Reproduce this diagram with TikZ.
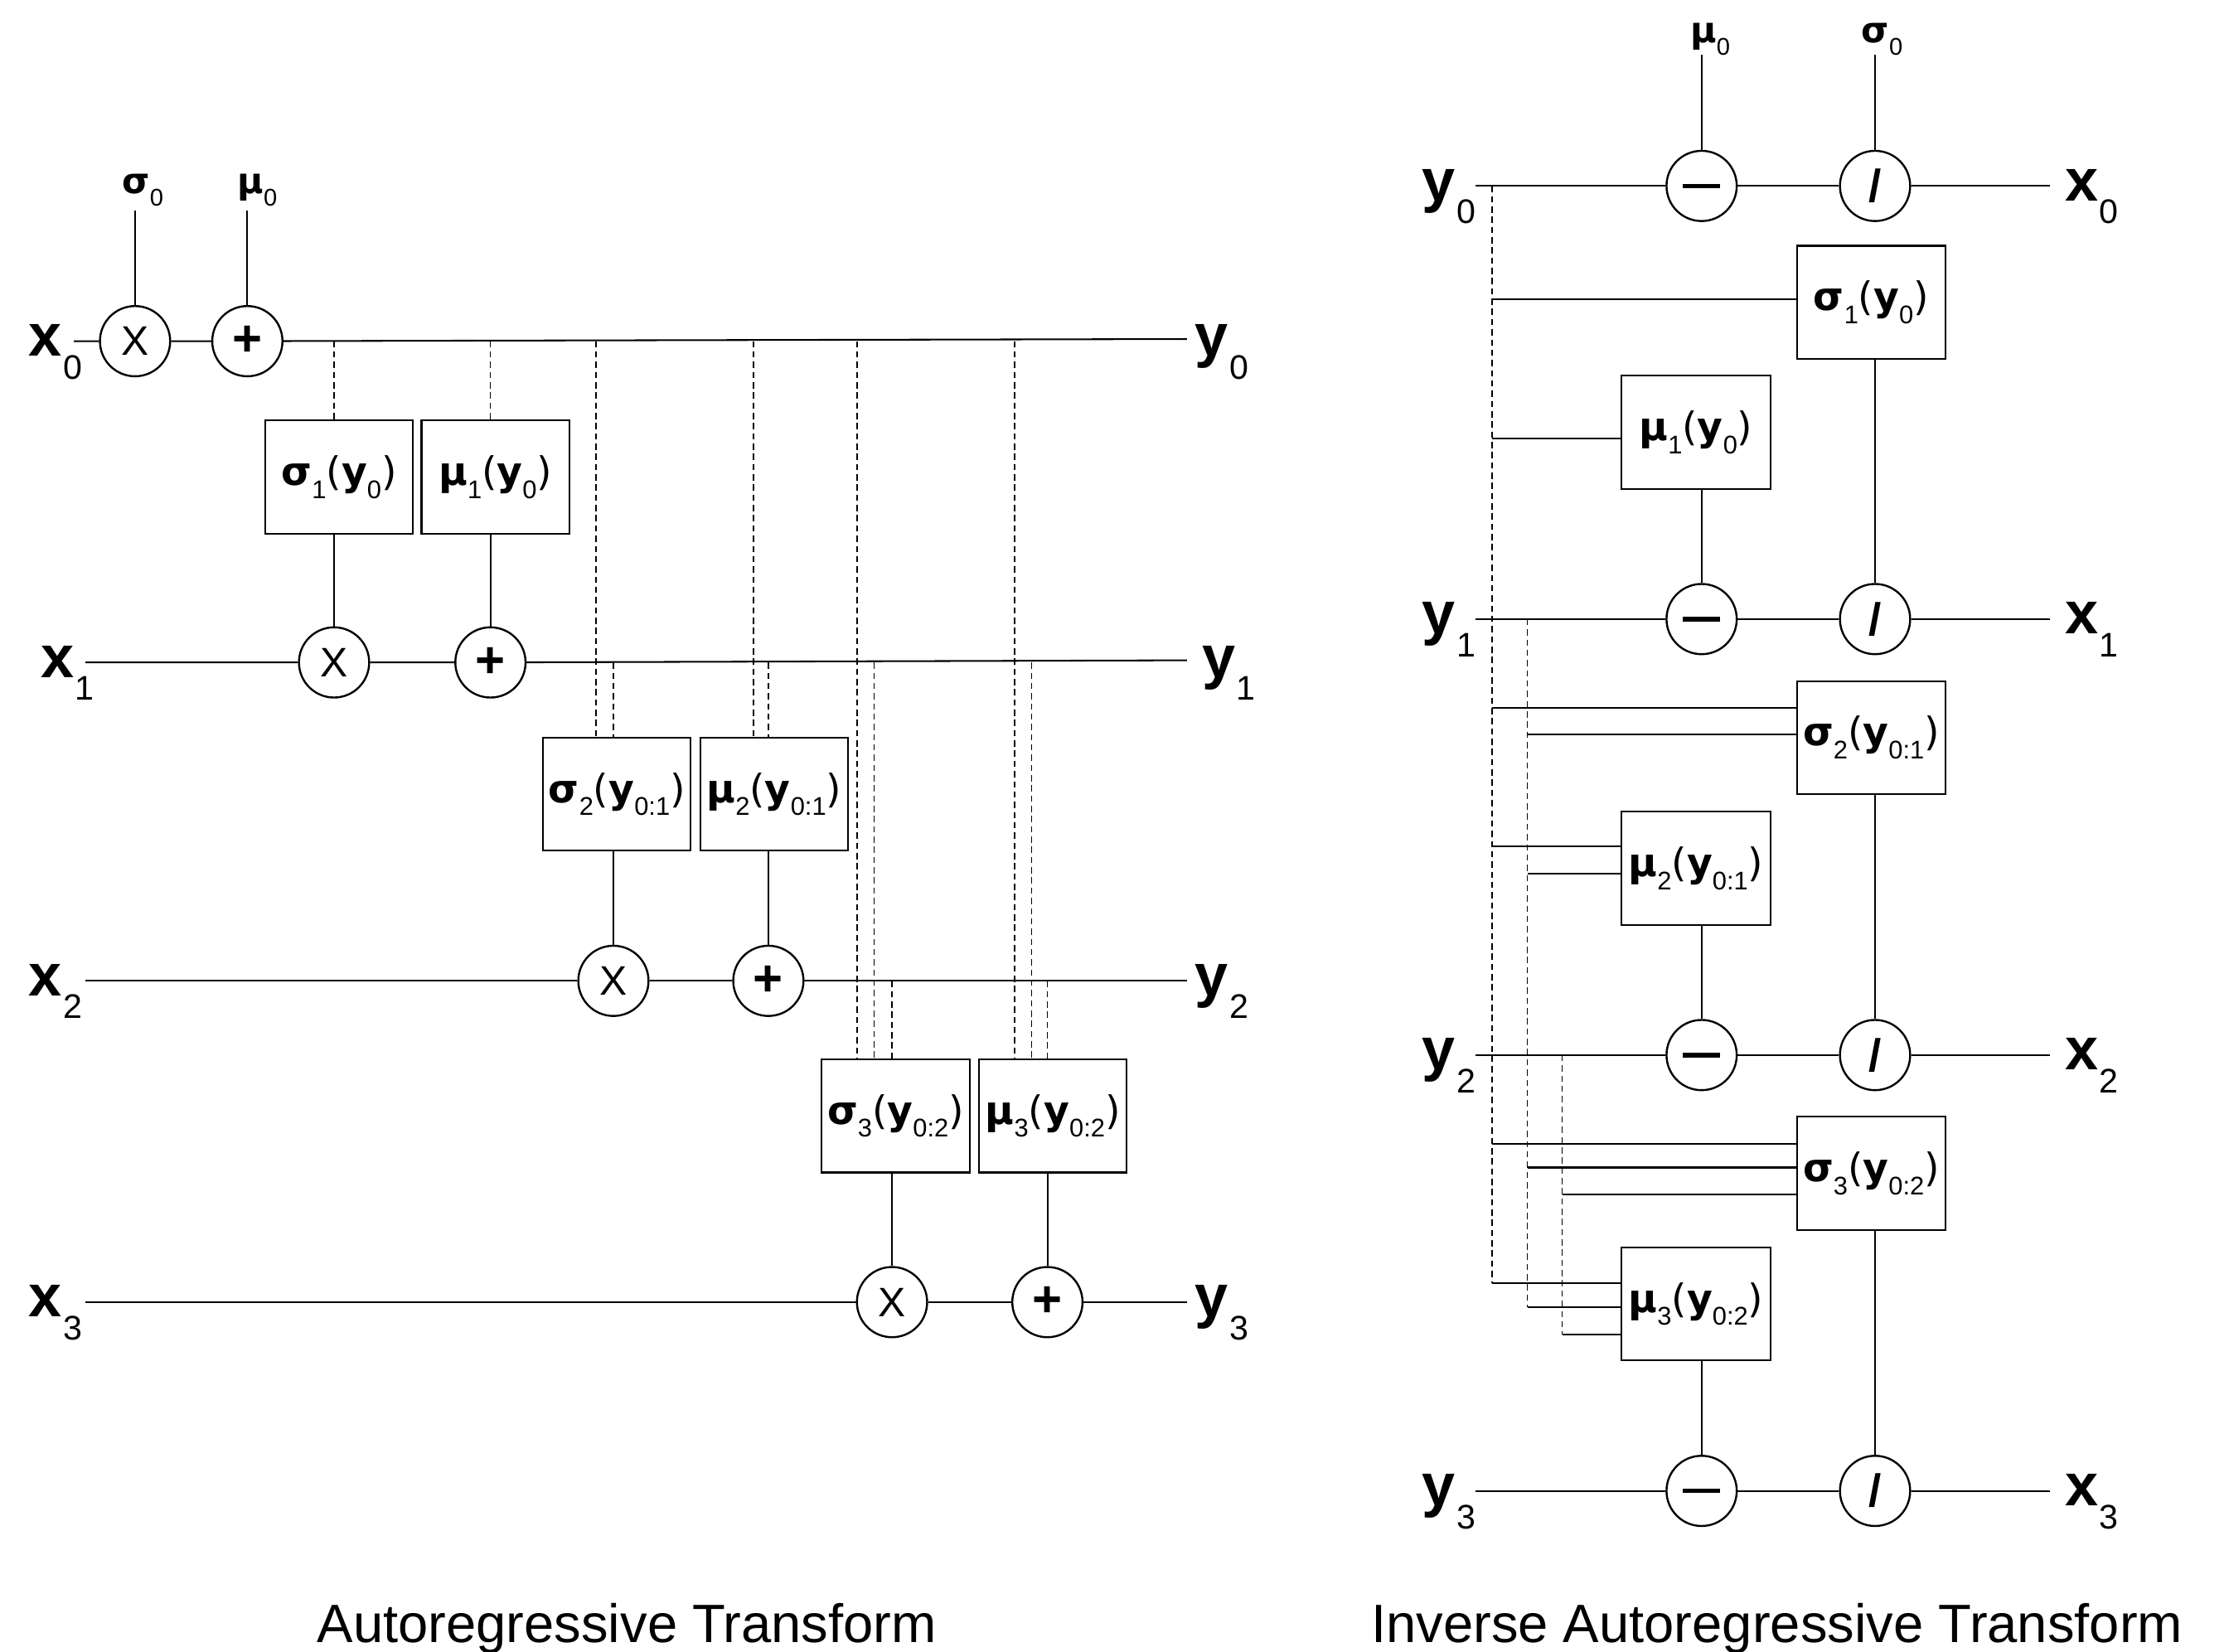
\documentclass[tikz,border=0pt]{standalone}
\usepackage{fontspec}
\setmainfont{DejaVu Sans}
\newfontfamily\libf{Liberation Sans}
\usetikzlibrary{calc}

\newcommand{\VarLab}[2]{{\libf\fontsize{21}{21}\selectfont\bfseries #1}\kern0.5pt\raisebox{-8pt}{\libf\fontsize{12}{12}\selectfont #2}}
\newcommand{\FnLab}[3]{{\fontsize{13.8}{14}\selectfont\bfseries #1}\raisebox{-4.6pt}{\libf\fontsize{9}{9}\selectfont #2}{\fontsize{13.8}{14}\selectfont(}{\fontsize{13.8}{14}\selectfont\bfseries y}\raisebox{-4.6pt}{\libf\fontsize{9}{9}\selectfont #3}{\fontsize{13.8}{14}\selectfont)}}
\newcommand{\TopLab}[2]{{\fontsize{12.5}{13}\selectfont\bfseries #1}\raisebox{-4.4pt}{\libf\fontsize{8.5}{9}\selectfont #2}}
\newcommand{\opX}{{\libf\fontsize{14.5}{14.5}\selectfont X}}
\newcommand{\opP}{{\libf\fontsize{18}{18}\selectfont\bfseries +}}
\newcommand{\opM}{\rule[-0.8pt]{13pt}{1.6pt}}
\newcommand{\opD}{{\libf\fontsize{16}{16}\selectfont\bfseries /}}

\begin{document}
\begin{tikzpicture}[x=0.5pt,y=-0.5pt,line width=0.6pt,
  op/.style={circle,draw,minimum size=24.7pt,inner sep=0pt,line width=0.7pt},
  fnbox/.style={draw,minimum width=52pt,minimum height=39.8pt,inner sep=0pt},
  dsh/.style={dash pattern=on 2.2pt off 1.4pt,line width=0.45pt},
  vlab/.style={inner sep=0pt,anchor=base west},
  toplab/.style={inner sep=0pt,anchor=base},
  captxt/.style={inner sep=0pt,anchor=base,font=\libf\fontsize{19}{19}\selectfont}]
\useasboundingbox (0,0) rectangle (1568,1162);

% ================= LEFT: Autoregressive Transform =================
\node[op] (lX0) at (95,240) {\opX};
\node[op] (lP0) at (174,240) {\opP};
\node[op] (lX1) at (235,466) {\opX};
\node[op] (lP1) at (345,466) {\opP};
\node[op] (lX2) at (431.5,690) {\opX};
\node[op] (lP2) at (540.5,690) {\opP};
\node[op] (lX3) at (627.5,916) {\opX};
\node[op] (lP3) at (736.8,916) {\opP};

\node[fnbox] (ls1) at (238.5,335.5) {\FnLab{σ}{1}{0}};
\node[fnbox] (lm1) at (348.5,335.5) {\FnLab{μ}{1}{0}};
\node[fnbox] (ls2) at (434,558.7) {\FnLab{σ}{2}{0:1}};
\node[fnbox] (lm2) at (544.5,558.7) {\FnLab{μ}{2}{0:1}};
\node[fnbox] (ls3) at (630,785) {\FnLab{σ}{3}{0:2}};
\node[fnbox] (lm3) at (740.7,785) {\FnLab{μ}{3}{0:2}};

% labels
\node[vlab] (lx0) at (19.5,250.5) {\VarLab{x}{0}};
\node[vlab] (lx1) at (28,476.5) {\VarLab{x}{1}};
\node[vlab] (lx2) at (19.5,700.5) {\VarLab{x}{2}};
\node[vlab] (lx3) at (19.5,926.5) {\VarLab{x}{3}};
\node[vlab] (ly0) at (840,250.5) {\VarLab{y}{0}};
\node[vlab] (ly1) at (845,476.5) {\VarLab{y}{1}};
\node[vlab] (ly2) at (840,700.5) {\VarLab{y}{2}};
\node[vlab] (ly3) at (840,926.5) {\VarLab{y}{3}};
\node[toplab] (lsig0) at (100.5,136) {\TopLab{σ}{0}};
\node[toplab] (lmu0) at (181,136) {\TopLab{μ}{0}};

\coordinate (lin0) at (52,240);
\coordinate (lin1) at (60,466);
\coordinate (lin2) at (60,690);
\coordinate (lin3) at (60,916);
\coordinate (lout0) at (835,238.5);
\coordinate (lout1) at (835,464.5);
\coordinate (lout2) at (835,690);
\coordinate (lout3) at (835,916);
\coordinate (lsig0e) at (95,148);
\coordinate (lmu0e) at (174,148);

% row lines
\draw (lin0) -- (lX0) -- (lP0) -- (lout0);
\draw (lin1) -- (lX1) -- (lP1) -- (lout1);
\draw (lin2) -- (lX2) -- (lP2) -- (lout2);
\draw (lin3) -- (lX3) -- (lP3) -- (lout3);
\draw (lX0) -- (lsig0e);
\draw (lP0) -- (lmu0e);

% box -> op
\draw (ls1.south -| lX1) -- (lX1);
\draw (lm1.south -| lP1) -- (lP1);
\draw (ls2.south -| lX2) -- (lX2);
\draw (lm2.south -| lP2) -- (lP2);
\draw (ls3.south -| lX3) -- (lX3);
\draw (lm3.south -| lP3) -- (lP3);

% dashed feeds
\draw[dsh] (lX1 |- lP0) -- (lX1 |- ls1.north);
\draw[dsh] (lP1 |- lP0) -- (lP1 |- lm1.north);
\draw[dsh] ($(lX2 |- lP0)+(-12.3,0)$) -- ($(lX2 |- ls2.north)+(-12.3,0)$);
\draw[dsh] (lX2 |- lP1) -- (lX2 |- ls2.north);
\draw[dsh] ($(lP2 |- lP0)+(-10.6,0)$) -- ($(lP2 |- lm2.north)+(-10.6,0)$);
\draw[dsh] (lP2 |- lP1) -- (lP2 |- lm2.north);
\draw[dsh] ($(lX3 |- lP0)+(-24.5,0)$) -- ($(lX3 |- ls3.north)+(-24.5,0)$);
\draw[dsh] ($(lX3 |- lP1)+(-12.5,0)$) -- ($(lX3 |- ls3.north)+(-12.5,0)$);
\draw[dsh] (lX3 |- lP2) -- (lX3 |- ls3.north);
\draw[dsh] ($(lP3 |- lP0)+(-23.1,0)$) -- ($(lP3 |- lm3.north)+(-23.1,0)$);
\draw[dsh] ($(lP3 |- lP1)+(-11,0)$) -- ($(lP3 |- lm3.north)+(-11,0)$);
\draw[dsh] (lP3 |- lP2) -- (lP3 |- lm3.north);

\node[captxt] (capL) at (441,1155.5) {Autoregressive Transform};

% ================= RIGHT: Inverse Autoregressive Transform =================
\node[op] (rM0) at (1197,130.8) {\opM};
\node[op] (rD0) at (1319,130.8) {\opD};
\node[op] (rM1) at (1197,435.5) {\opM};
\node[op] (rD1) at (1319,435.5) {\opD};
\node[op] (rM2) at (1197,742.2) {\opM};
\node[op] (rD2) at (1319,742.2) {\opD};
\node[op] (rM3) at (1197,1048.8) {\opM};
\node[op] (rD3) at (1319,1048.8) {\opD};

\node[fnbox,minimum width=52.3pt] (rs1) at (1316.3,212.7) {\FnLab{σ}{1}{0}};
\node[fnbox,minimum width=52.3pt] (rm1) at (1193,304.2) {\FnLab{μ}{1}{0}};
\node[fnbox,minimum width=52.3pt] (rs2) at (1316.3,518.9) {\FnLab{σ}{2}{0:1}};
\node[fnbox,minimum width=52.3pt] (rm2) at (1193,610.7) {\FnLab{μ}{2}{0:1}};
\node[fnbox,minimum width=52.3pt] (rs3) at (1316.3,825.5) {\FnLab{σ}{3}{0:2}};
\node[fnbox,minimum width=52.3pt] (rm3) at (1193,917.3) {\FnLab{μ}{3}{0:2}};

\node[vlab] (ry0) at (1000,141.3) {\VarLab{y}{0}};
\node[vlab] (ry1) at (1000,446) {\VarLab{y}{1}};
\node[vlab] (ry2) at (1000,752.7) {\VarLab{y}{2}};
\node[vlab] (ry3) at (1000,1059.3) {\VarLab{y}{3}};
\node[vlab] (rx0) at (1452,141.3) {\VarLab{x}{0}};
\node[vlab] (rx1) at (1452,446) {\VarLab{x}{1}};
\node[vlab] (rx2) at (1452,752.7) {\VarLab{x}{2}};
\node[vlab] (rx3) at (1452,1059.3) {\VarLab{x}{3}};
\node[toplab] (rmu0) at (1203,30) {\TopLab{μ}{0}};
\node[toplab] (rsig0) at (1324,30) {\TopLab{σ}{0}};

\coordinate (rin0) at (1038,130.8);
\coordinate (rin1) at (1038,435.5);
\coordinate (rin2) at (1038,742.2);
\coordinate (rin3) at (1038,1048.8);
\coordinate (rout0) at (1441.8,130.8);
\coordinate (rout1) at (1441.8,435.5);
\coordinate (rout2) at (1441.8,742.2);
\coordinate (rout3) at (1441.8,1048.8);
\coordinate (rmu0e) at (1197,38.7);
\coordinate (rsig0e) at (1319,38.7);

\draw (rin0) -- (rM0) -- (rD0) -- (rout0);
\draw (rin1) -- (rM1) -- (rD1) -- (rout1);
\draw (rin2) -- (rM2) -- (rD2) -- (rout2);
\draw (rin3) -- (rM3) -- (rD3) -- (rout3);
\draw (rM0) -- (rmu0e);
\draw (rD0) -- (rsig0e);

% box -> op
\draw (rs1.south -| rD1) -- (rD1);
\draw (rm1.south -| rM1) -- (rM1);
\draw (rs2.south -| rD2) -- (rD2);
\draw (rm2.south -| rM2) -- (rM2);
\draw (rs3.south -| rD3) -- (rD3);
\draw (rm3.south -| rM3) -- (rM3);

% dashed buses
\coordinate (D1a) at (1049.5,130.8);
\coordinate (D1b) at (1049.5,902.6);
\coordinate (D2a) at (1074.4,435.5);
\coordinate (D2b) at (1074.4,919.6);
\coordinate (D3a) at (1099,742.2);
\coordinate (D3b) at (1099,938.6);
\draw[dsh] (D1a) -- (D1b);
\draw[dsh] (D2a) -- (D2b);
\draw[dsh] (D3a) -- (D3b);

% inputs into boxes
\draw ($(D1a |- rs1.west)+(0,-2.4)$) -- ($(rs1.west)+(0,-2.4)$);
\draw ($(D1a |- rm1.west)+(0,4)$) -- ($(rm1.west)+(0,4)$);
\draw ($(D1a |- rs2.west)+(0,-20.9)$) -- ($(rs2.west)+(0,-20.9)$);
\draw ($(D2a |- rs2.west)+(0,-2.5)$) -- ($(rs2.west)+(0,-2.5)$);
\draw ($(D1a |- rm2.west)+(0,-15.1)$) -- ($(rm2.west)+(0,-15.1)$);
\draw ($(D2a |- rm2.west)+(0,3.9)$) -- ($(rm2.west)+(0,3.9)$);
\draw ($(D1a |- rs3.west)+(0,-20.9)$) -- ($(rs3.west)+(0,-20.9)$);
\draw ($(D2a |- rs3.west)+(0,-4.2)$) -- ($(rs3.west)+(0,-4.2)$);
\draw ($(D3a |- rs3.west)+(0,14.9)$) -- ($(rs3.west)+(0,14.9)$);
\draw (D1b) -- (D1b -| rm3.west);
\draw (D2b) -- (D2b -| rm3.west);
\draw (D3b) -- (D3b -| rm3.west);

\node[captxt] (capR) at (1250,1155.5) {Inverse Autoregressive Transform};
\end{tikzpicture}
\end{document}
